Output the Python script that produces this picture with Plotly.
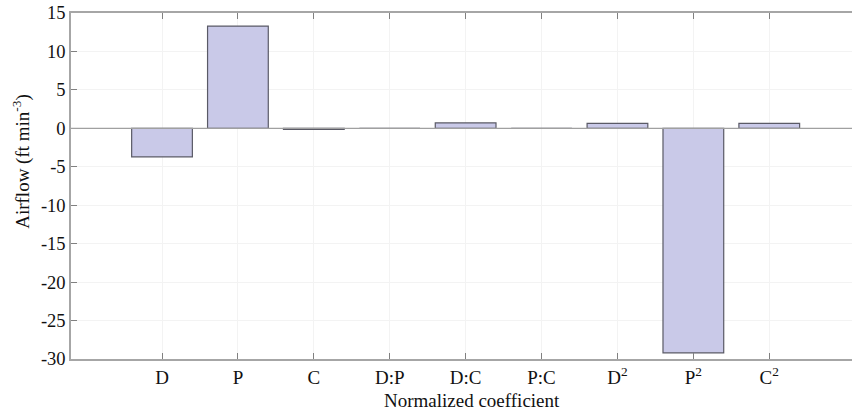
import plotly.graph_objects as go

# Normalized regression coefficients for airflow
terms = ["D", "P", "C", "D:P", "D:C", "P:C", "D<sup>2</sup>", "P<sup>2</sup>", "C<sup>2</sup>"]
coefficients = [-3.7, 13.3, -0.15, 0.0, 0.7, 0.0, 0.65, -29.2, 0.65]
y_ticks = [15, 10, 5, 0, -5, -10, -15, -20, -25, -30]
y_tick_text = [str(v) for v in y_ticks]  # plain hyphen minus signs

x_label = "Normalized coefficient"
y_label = "Airflow (ft min<sup>-3</sup>)"

positions = list(range(len(terms)))

fig = go.Figure(
    go.Bar(
        x=positions,
        y=coefficients,
        width=0.8,
        marker=dict(color="#c9c9e8", line=dict(color="#5a5a66", width=1.2)),
    )
)

axis_color = "#a6a6a6"
serif = "Liberation Serif"

fig.update_layout(
    width=852,
    height=419,
    margin=dict(l=71, r=0, t=13, b=60),
    plot_bgcolor="white",
    paper_bgcolor="white",
    font=dict(family=serif, size=19, color="#111111"),
    showlegend=False,
    xaxis=dict(
        range=[-1.199, 9.09],
        tickmode="array",
        tickvals=positions,
        ticktext=terms,
        ticks="inside",
        ticklen=6,
        tickcolor="#808080",
        showline=True,
        linecolor=axis_color,
        linewidth=1.5,
        mirror="ticks",
        showgrid=True,
        gridcolor="#f3f3f3",
        zeroline=False,
        tickfont=dict(family=serif, size=19),
    ),
    yaxis=dict(
        range=[-30, 15],
        tickmode="array",
        tickvals=y_ticks,
        ticktext=y_tick_text,
        ticks="inside",
        ticklen=6,
        tickcolor="#808080",
        showline=True,
        linecolor=axis_color,
        linewidth=1.5,
        showgrid=True,
        gridcolor="#f3f3f3",
        zeroline=False,
        tickfont=dict(family=serif, size=18.5),
    ),
    annotations=[
        dict(text=x_label, xref="paper", yref="paper", x=0.5134, y=-0.121,
             xanchor="center", yanchor="middle", showarrow=False,
             font=dict(family=serif, size=19)),
        dict(text=y_label, xref="paper", yref="paper", x=-0.0644, y=0.572,
             xanchor="center", yanchor="middle", textangle=-90, showarrow=False,
             font=dict(family=serif, size=19)),
    ],
)

# Zero reference line drawn on top of the bars
fig.add_hline(y=0, line=dict(color="#a0a0a0", width=1.2), layer="above")

fig.write_html("out.html")
